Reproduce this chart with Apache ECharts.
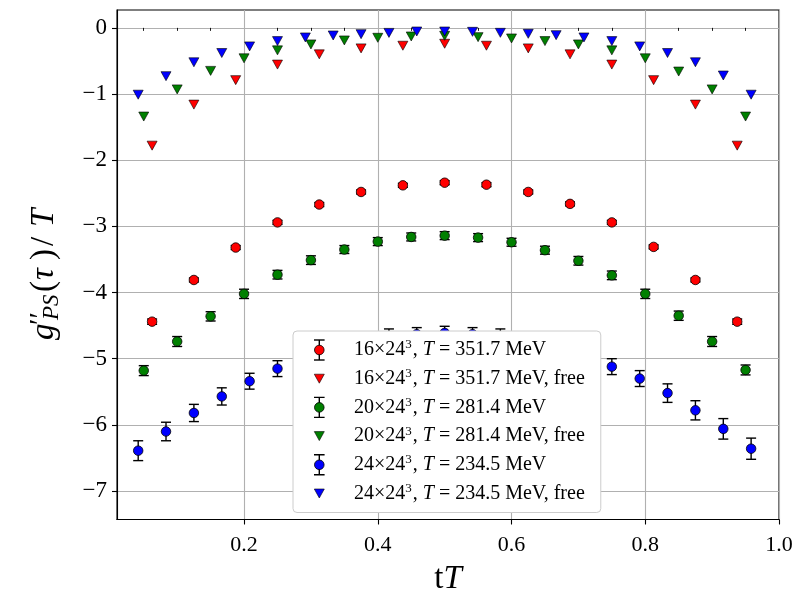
<!DOCTYPE html>
<html>
<head>
<meta charset="utf-8">
<script src="https://cdn.jsdelivr.net/npm/echarts@6/dist/echarts.min.js"></script>
<style>
  html, body { margin: 0; padding: 0; background: #fff; }
  #chart { width: 797px; height: 595px; }
</style>
</head>
<body>
<div id="chart"></div>
<script>
// ---- data: tT positions, correlator curvature values and errors ----
const tT16 = [0.0625, 0.125, 0.1875, 0.25, 0.3125, 0.375, 0.4375, 0.5, 0.5625, 0.625, 0.6875, 0.75, 0.8125, 0.875, 0.9375];
const g16 = [-4.44, -3.81, -3.32, -2.94, -2.67, -2.48, -2.38, -2.34, -2.37, -2.48, -2.66, -2.94, -3.31, -3.81, -4.44];
const err16 = [0.04, 0.03, 0.03, 0.03, 0.03, 0.03, 0.03, 0.03, 0.03, 0.03, 0.03, 0.03, 0.03, 0.03, 0.04];
const free16 = [-1.78, -1.16, -0.79, -0.555, -0.40, -0.31, -0.27, -0.24, -0.27, -0.31, -0.40, -0.555, -0.79, -1.16, -1.78];

const tT20 = [0.05, 0.10, 0.15, 0.20, 0.25, 0.30, 0.35, 0.40, 0.45, 0.50, 0.55, 0.60, 0.65, 0.70, 0.75, 0.80, 0.85, 0.90, 0.95];
const g20 = [-5.18, -4.74, -4.36, -4.02, -3.73, -3.51, -3.35, -3.23, -3.16, -3.14, -3.17, -3.24, -3.36, -3.52, -3.74, -4.02, -4.35, -4.74, -5.17];
const err20 = [0.075, 0.075, 0.07, 0.07, 0.065, 0.065, 0.06, 0.06, 0.06, 0.06, 0.06, 0.06, 0.06, 0.065, 0.065, 0.07, 0.07, 0.075, 0.075];
const free20 = [-1.34, -0.93, -0.65, -0.46, -0.34, -0.25, -0.19, -0.15, -0.13, -0.12, -0.14, -0.16, -0.20, -0.25, -0.34, -0.46, -0.66, -0.93, -1.34];

const tT24 = [0.0417, 0.0833, 0.125, 0.1667, 0.2083, 0.25, 0.2917, 0.3333, 0.375, 0.4167, 0.4583, 0.5, 0.5417, 0.5833, 0.625, 0.6667, 0.7083, 0.75, 0.7917, 0.8333, 0.875, 0.9167, 0.9583];
const g24 = [-6.39, -6.10, -5.82, -5.57, -5.34, -5.15, -5.00, -4.88, -4.78, -4.68, -4.63, -4.61, -4.63, -4.68, -4.78, -4.88, -4.99, -5.12, -5.30, -5.52, -5.78, -6.06, -6.36];
const err24 = [0.15, 0.14, 0.13, 0.13, 0.12, 0.12, 0.12, 0.12, 0.12, 0.13, 0.10, 0.10, 0.10, 0.13, 0.12, 0.12, 0.12, 0.12, 0.12, 0.14, 0.145, 0.155, 0.16];
const free24 = [-1.01, -0.73, -0.52, -0.38, -0.28, -0.20, -0.145, -0.115, -0.095, -0.076, -0.055, -0.055, -0.06, -0.075, -0.09, -0.11, -0.145, -0.20, -0.28, -0.38, -0.52, -0.72, -1.01];

const seriesNames = [
  '16×24³, T = 351.7 MeV',
  '16×24³, T = 351.7 MeV, free',
  '20×24³, T = 281.4 MeV',
  '20×24³, T = 281.4 MeV, free',
  '24×24³, T = 234.5 MeV',
  '24×24³, T = 234.5 MeV, free'
];
const colors = ['#ff0000', '#008000', '#0000ff'];

const xMajorTicks = [0.2, 0.4, 0.6, 0.8, 1.0];
const xMinorTicks = [0.05, 0.1, 0.15, 0.25, 0.3, 0.35, 0.45, 0.5, 0.55, 0.65, 0.7, 0.75, 0.85, 0.9, 0.95];
const yTicks = [-7, -6, -5, -4, -3, -2, -1, 0];

// ---- helpers ----
const FONT = '"Liberation Serif", "DejaVu Serif", serif';

function pairs(xs, ys) { return xs.map((x, i) => [x, ys[i]]); }

function errorBars(xs, ys, es) {
  return {
    type: 'custom',
    silent: true,
    z: 2,
    data: xs.map((x, i) => [x, ys[i] - es[i], ys[i] + es[i]]),
    encode: { x: 0, y: [1, 2] },
    renderItem(params, api) {
      const x = api.value(0);
      const lo = api.coord([x, api.value(1)]);
      const hi = api.coord([x, api.value(2)]);
      const half = 5;
      const style = { stroke: '#000', lineWidth: 1.4, fill: null };
      return {
        type: 'group',
        children: [
          { type: 'line', shape: { x1: lo[0], y1: lo[1], x2: hi[0], y2: hi[1] }, style },
          { type: 'line', shape: { x1: lo[0] - half, y1: lo[1], x2: lo[0] + half, y2: lo[1] }, style },
          { type: 'line', shape: { x1: hi[0] - half, y1: hi[1], x2: hi[0] + half, y2: hi[1] }, style }
        ]
      };
    }
  };
}

function points(name, xs, ys, color) {
  return {
    name, type: 'scatter', z: 3,
    data: pairs(xs, ys),
    symbol: 'circle', symbolSize: 9.5,
    itemStyle: { color, borderColor: '#000', borderWidth: 0.8, opacity: 1 },
    emphasis: { disabled: true }
  };
}

function freePoints(name, xs, ys, color) {
  return {
    name, type: 'scatter', z: 3,
    data: pairs(xs, ys),
    symbol: 'triangle', symbolRotate: 180, symbolSize: [10, 9],
    itemStyle: { color, borderColor: '#000', borderWidth: 0.6, opacity: 1 },
    emphasis: { disabled: true }
  };
}

// legend glyphs: marker with error bar / down triangle, drawn as small SVG images
function svgIcon(body) {
  const svg = '<svg xmlns="http://www.w3.org/2000/svg" width="56" height="24" viewBox="0 0 56 24">' + body + '</svg>';
  return 'image://data:image/svg+xml;charset=utf-8,' + encodeURIComponent(svg);
}
function barIcon(color) {
  return svgIcon(
    '<g stroke="#000" stroke-width="1.4" fill="none">' +
    '<line x1="26.3" y1="2" x2="26.3" y2="22"/>' +
    '<line x1="21" y1="2" x2="31.6" y2="2"/>' +
    '<line x1="21" y1="22" x2="31.6" y2="22"/></g>' +
    '<circle cx="26.3" cy="12" r="4.8" fill="' + color + '" stroke="#000" stroke-width="0.8"/>'
  );
}
function triIcon(color) {
  return svgIcon('<path d="M21.3,7.5 L31.3,7.5 L26.3,16.5 Z" fill="' + color + '" stroke="#000" stroke-width="0.6"/>');
}

function legendLabel(name) {
  const m = name.match(/^(\d+×24)³, T = ([\d.]+) MeV(, free)?$/);
  if (!m) return name;
  return m[1] + '{sup|3}, {i|T} = ' + m[2] + ' MeV' + (m[3] || '');
}

const minus = v => (v < 0 ? '\u2212' + Math.abs(v) : String(v));

const chart = echarts.init(document.getElementById('chart'), null, { renderer: 'canvas' });

chart.setOption({
  animation: false,
  backgroundColor: '#fff',
  grid: {
    left: 117, right: 18, top: 10, bottom: 75.5,
    outerBoundsMode: 'none', containLabel: false,
    show: true, borderColor: '#000', borderWidth: 1.1, backgroundColor: 'transparent'
  },
  xAxis: [
    {
      type: 'value', min: 0.01, max: 1.0, position: 'bottom',
      name: 't{i|T}', nameLocation: 'middle', nameGap: 43,
      nameTextStyle: {
        fontFamily: FONT, fontSize: 33, color: '#000',
        rich: { i: { fontFamily: FONT, fontSize: 33, fontStyle: 'italic', color: '#000' } }
      },
      axisLine: { show: true, onZero: false, lineStyle: { color: '#000', width: 1.1 } },
      axisTick: { show: true, length: 5, lineStyle: { color: '#000', width: 1.1 }, customValues: xMajorTicks },
      axisLabel: {
        show: true, margin: 15, fontFamily: FONT, fontSize: 22, color: '#000',
        customValues: xMajorTicks, formatter: v => v.toFixed(1)
      },
      splitLine: { show: true, lineStyle: { color: '#b0b0b0', width: 1.1 } }
    },
    {
      type: 'value', min: 0.01, max: 1.0, position: 'bottom',
      axisLine: { show: false },
      axisTick: { show: true, length: 3, lineStyle: { color: '#000', width: 0.9 }, customValues: xMinorTicks },
      axisLabel: { show: false },
      splitLine: { show: false }
    }
  ],
  yAxis: {
    type: 'value', min: -7.43, max: 0.27, splitNumber: 8,
    axisLine: { show: true, onZero: false, lineStyle: { color: '#000', width: 1.1 } },
    axisTick: { show: true, length: 5, lineStyle: { color: '#000', width: 1.1 }, customValues: yTicks },
    axisLabel: {
      show: true, margin: 10, fontFamily: FONT, fontSize: 23, color: '#000',
      customValues: yTicks, formatter: minus
    },
    splitLine: { show: true, lineStyle: { color: '#b0b0b0', width: 1.1 } }
  },
  legend: {
    orient: 'vertical',
    left: 293, top: 331,
    padding: [7, 16, 7, 0],
    itemWidth: 56, itemHeight: 24, itemGap: 4.7,
    backgroundColor: '#fff',
    borderColor: '#cccccc', borderWidth: 1, borderRadius: 4,
    selectedMode: false,
    data: [
      { name: seriesNames[0], icon: barIcon(colors[0]) },
      { name: seriesNames[1], icon: triIcon(colors[0]) },
      { name: seriesNames[2], icon: barIcon(colors[1]) },
      { name: seriesNames[3], icon: triIcon(colors[1]) },
      { name: seriesNames[4], icon: barIcon(colors[2]) },
      { name: seriesNames[5], icon: triIcon(colors[2]) }
    ],
    formatter: legendLabel,
    textStyle: {
      fontFamily: FONT, fontSize: 20, color: '#000',
      rich: {
        i: { fontFamily: FONT, fontSize: 20, fontStyle: 'italic', color: '#000' },
        sup: { fontFamily: FONT, fontSize: 13, color: '#000', padding: [0, 1, 10, 0] }
      }
    }
  },
  graphic: [
    {
      // rotated y-axis title  g''_PS(τ)/T
      type: 'group', x: 44, y: 340, rotation: Math.PI / 2, silent: true,
      children: [
        { type: 'text', x: 0, y: 0, style: { text: 'g', font: 'italic 33px ' + FONT, fill: '#000', align: 'left', verticalAlign: 'middle' } },
        { type: 'text', x: 15, y: -3, style: { text: '′′', font: '30px ' + FONT, fill: '#000', align: 'left', verticalAlign: 'middle' } },
        { type: 'text', x: 20, y: 8, style: { text: 'PS', font: 'italic 23px ' + FONT, fill: '#000', align: 'left', verticalAlign: 'middle' } },
        { type: 'text', x: 48, y: 0, style: { text: '(', font: '33px ' + FONT, fill: '#000', align: 'left', verticalAlign: 'middle' } },
        { type: 'text', x: 60, y: 0, style: { text: 'τ', font: 'italic 33px ' + FONT, fill: '#000', align: 'left', verticalAlign: 'middle' } },
        { type: 'text', x: 80, y: 0, style: { text: ')', font: '33px ' + FONT, fill: '#000', align: 'left', verticalAlign: 'middle' } },
        { type: 'text', x: 94, y: 0, style: { text: '/', font: '33px ' + FONT, fill: '#000', align: 'left', verticalAlign: 'middle' } },
        { type: 'text', x: 113, y: 0, style: { text: 'T', font: 'italic 33px ' + FONT, fill: '#000', align: 'left', verticalAlign: 'middle' } }
      ]
    }
  ],
  series: [
    errorBars(tT16, g16, err16),
    points(seriesNames[0], tT16, g16, colors[0]),
    freePoints(seriesNames[1], tT16, free16, colors[0]),
    errorBars(tT20, g20, err20),
    points(seriesNames[2], tT20, g20, colors[1]),
    freePoints(seriesNames[3], tT20, free20, colors[1]),
    errorBars(tT24, g24, err24),
    points(seriesNames[4], tT24, g24, colors[2]),
    freePoints(seriesNames[5], tT24, free24, colors[2])
  ]
});
</script>
</body>
</html>
